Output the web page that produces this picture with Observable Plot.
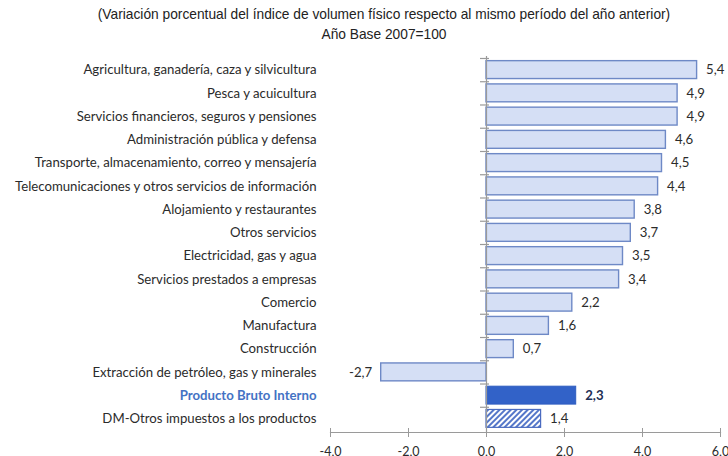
<!DOCTYPE html>
<html>
<head>
<meta charset="utf-8">
<script src="https://cdn.jsdelivr.net/npm/d3@7"></script>
<script src="https://cdn.jsdelivr.net/npm/@observablehq/plot@0.6"></script>
<style>
  html, body { margin: 0; padding: 0; background: #fff; }
  #wrap { width: 728px; height: 456px; overflow: hidden; position: relative; }
  #title { height: 48px; font-family: "Liberation Sans Narrow", "Liberation Sans", sans-serif; font-size: 15px; color: #222; text-align: center; line-height: 20px; padding-top: 4px; box-sizing: border-box; }
  #title div { position: relative; left: 20px; transform: scaleX(0.917); transform-origin: 364px 0; }
  #chart svg { display: block; }
</style>
</head>
<body>
<div id="wrap">
  <div id="title">
    <div>(Variación porcentual del índice de volumen físico respecto al mismo período del año anterior)</div>
    <div>Año Base 2007=100</div>
  </div>
  <svg width="0" height="0" style="position:absolute">
    <defs>
      <pattern id="hatch" patternUnits="userSpaceOnUse" width="4" height="4" patternTransform="rotate(45)">
        <rect width="4" height="4" fill="#ffffff"></rect>
        <line x1="1" y1="0" x2="1" y2="4" stroke="#5577C9" stroke-width="2"></line>
      </pattern>
    </defs>
  </svg>
  <div id="chart"></div>
</div>
<script>
const categorias = [
  "Agricultura, ganadería, caza y silvicultura",
  "Pesca y acuicultura",
  "Servicios financieros, seguros y pensiones",
  "Administración pública y defensa",
  "Transporte, almacenamiento, correo y mensajería",
  "Telecomunicaciones y otros servicios de información",
  "Alojamiento y restaurantes",
  "Otros servicios",
  "Electricidad, gas y agua",
  "Servicios prestados a empresas",
  "Comercio",
  "Manufactura",
  "Construcción",
  "Extracción de petróleo, gas y minerales",
  "Producto Bruto Interno",
  "DM-Otros impuestos a los productos"
];
const valores = [5.4, 4.9, 4.9, 4.6, 4.5, 4.4, 3.8, 3.7, 3.5, 3.4, 2.2, 1.6, 0.7, -2.7, 2.3, 1.4];
const tipos = ["sector","sector","sector","sector","sector","sector","sector","sector","sector","sector","sector","sector","sector","sector","total","impuestos"];
const xTicks = [-4, -2, 0, 2, 4, 6];

const data = categorias.map((c, i) => ({name: c, value: valores[i], tipo: tipos[i]}));
const fmt = v => v.toFixed(1).replace(".", ",");

const H = 408, mt = 8, mb = 24, pInner = 0.23, pOuter = 0.2;
const step = (H - mt - mb) / (categorias.length - pInner + 2 * pOuter);

const sectores = data.filter(d => d.tipo === "sector");
const total = data.filter(d => d.tipo === "total");
const impuestos = data.filter(d => d.tipo === "impuestos");
const noTotal = data.filter(d => d.tipo !== "total");

const axisColor = "#9a9a9a";
const textColor = "#2b2b2b";
const fs = 13.2;

const chart = Plot.plot({
  width: 728,
  height: H,
  marginTop: mt,
  marginBottom: mb,
  marginLeft: 330,
  marginRight: 8,
  style: {fontFamily: "Lato, 'Open Sans', sans-serif", fontSize: "13px", color: textColor, background: "transparent"},
  x: {domain: [-4, 6], axis: null, label: null},
  y: {domain: categorias, paddingInner: pInner, paddingOuter: pOuter, axis: null, round: false},
  marks: [
    Plot.barX(sectores, {x: "value", y: "name", fill: "#D5DFF5", stroke: "#6E89C6", strokeWidth: 1.4}),
    Plot.barX(total, {x: "value", y: "name", fill: "#3262C8", stroke: "#2F5DC0", strokeWidth: 1}),
    Plot.barX(impuestos, {x: "value", y: "name", fill: "url(#hatch)", stroke: "#4A6BC0", strokeWidth: 1.2}),
    Plot.ruleX([0], {stroke: axisColor, strokeWidth: 1.2}),
    Plot.ruleY(categorias, {y: d => d, x1: 0, x2: 0, insetLeft: -6, insetRight: -3, dy: -step / 2, stroke: axisColor, strokeWidth: 1.2}),
    Plot.frame({anchor: "bottom", stroke: axisColor, strokeWidth: 1.2}),
    Plot.axisX({ticks: xTicks, tickSize: 9, tickPadding: 10, dy: -4, tickFormat: fmt, label: null, stroke: axisColor, fill: textColor, fontSize: 12.5}),
    Plot.text(noTotal, {y: "name", text: "name", frameAnchor: "left", textAnchor: "end", dx: -14, fill: textColor, fontSize: fs}),
    Plot.text(total, {y: "name", text: "name", frameAnchor: "left", textAnchor: "end", dx: -14, fill: "#4472C4", fontWeight: "bold", fontSize: fs}),
    Plot.text(noTotal.filter(d => d.value >= 0), {x: "value", y: "name", text: d => fmt(d.value), textAnchor: "start", dx: 9, fill: textColor, fontSize: fs}),
    Plot.text(noTotal.filter(d => d.value < 0), {x: "value", y: "name", text: d => fmt(d.value), textAnchor: "end", dx: -9, fill: textColor, fontSize: fs}),
    Plot.text(total, {x: "value", y: "name", text: d => fmt(d.value), textAnchor: "start", dx: 9, fill: "#1F2F55", fontWeight: "bold", fontSize: fs})
  ]
});
document.getElementById("chart").appendChild(chart);
</script>
</body>
</html>
